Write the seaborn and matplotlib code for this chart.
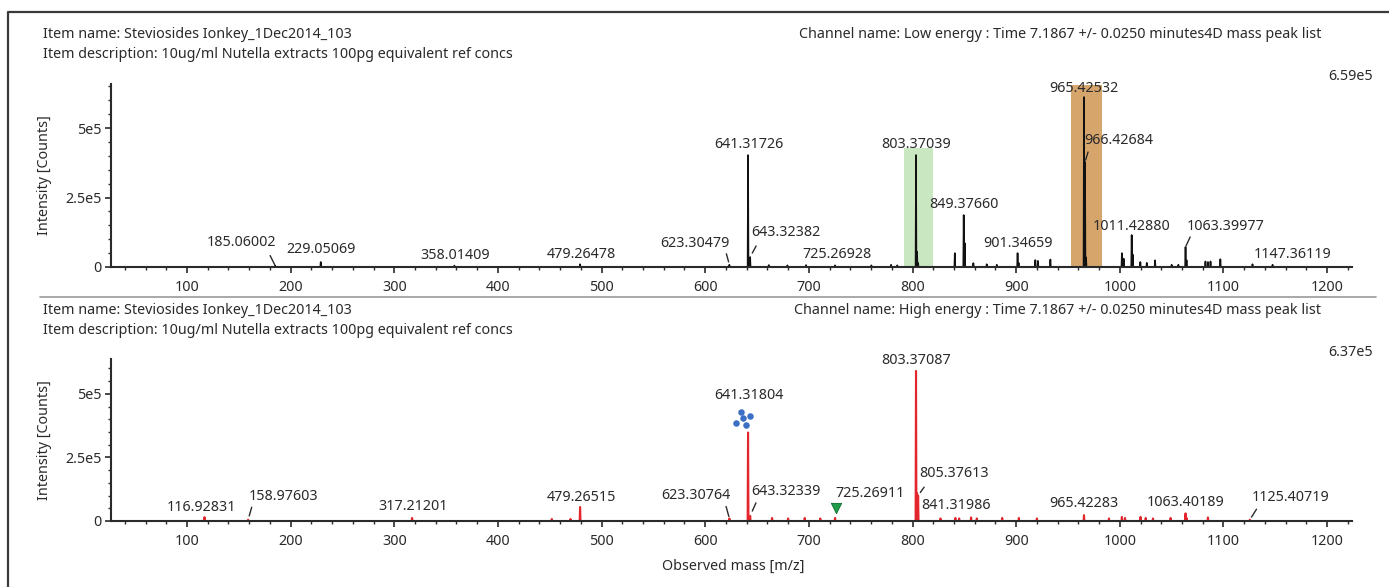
import seaborn as sns
import pandas as pd
import matplotlib.pyplot as plt
import matplotlib.transforms as mtransforms
from matplotlib.lines import Line2D
from matplotlib.ticker import FixedLocator, MultipleLocator
import numpy as np

sns.set_style('ticks')
plt.rcParams['font.family'] = ['Noto Sans', 'DejaVu Sans']
FS = 10.3
plt.rcParams['font.size'] = FS

W, H = 1389, 587
INK = '#2a2a2a'

# ---------------- data ----------------
header_name = 'Item name: Steviosides Ionkey_1Dec2014_103'
header_desc = 'Item description: 10ug/ml Nutella extracts 100pg equivalent ref concs'
low_channel = 'Channel name: Low energy : Time 7.1867 +/- 0.0250 minutes4D mass peak list'
high_channel = 'Channel name: High energy : Time 7.1867 +/- 0.0250 minutes4D mass peak list'

low_mz = [185.06002, 229.05069, 358.01409, 479.26478, 623.30479, 641.31726, 643.32382,
          661.3, 679.3, 697.3, 725.26928, 760.3, 779.3, 785.3, 803.37039, 804.374, 805.38,
          840.8, 849.37660, 850.38, 858.7, 871.6, 881.3, 901.34659, 902.35, 918.5, 921.0,
          933.0, 965.42532, 966.42684, 967.43, 1002.0, 1003.7, 1011.42880, 1012.43, 1019.8,
          1026.0, 1034.0, 1050.0, 1056.5, 1063.39977, 1064.40, 1082.6, 1085.0, 1087.5,
          1097.0, 1128.0, 1147.36119]
low_int = [5000, 18000, 5000, 10000, 8000, 403000, 36000,
           7000, 6000, 7000, 6000, 6000, 8000, 6000, 403000, 55000, 15000,
           50000, 187000, 86000, 14000, 10000, 8000, 50000, 15000, 25000, 22000,
           27000, 612000, 378000, 35000, 50000, 30000, 115000, 45000, 18000,
           15000, 24000, 8000, 8000, 72000, 25000, 20000, 18000, 20000,
           28000, 10000, 8000]
low_max = 6.59e5
low_bands = [(791.7, 819.7, 4.3e5), (953.0, 983.0, 6.55e5)]

high_mz = [116.92831, 158.97603, 317.21201, 452.0, 470.0, 479.26515, 623.30764, 641.31804,
           643.32339, 664.5, 680.0, 696.0, 711.0, 725.26911, 803.37087, 804.37, 805.37613,
           827.0, 841.31986, 845.0, 856.5, 862.0, 886.5, 902.6, 920.0, 965.42283, 989.5,
           1002.0, 1005.0, 1020.0, 1025.0, 1032.0, 1049.0, 1063.40189, 1064.4, 1085.0,
           1125.40719]
high_int = [15000, 5000, 12000, 8000, 8000, 55000, 10000, 348000,
            20000, 12000, 10000, 12000, 10000, 12000, 590000, 110000, 100000,
            10000, 12000, 10000, 14000, 10000, 12000, 12000, 10000, 23000, 10000,
            16000, 12000, 16000, 12000, 10000, 12000, 30000, 12000, 14000,
            5000]
high_max = 6.37e5

x_ticks = list(range(100, 1201, 100))
y_ticks = [0, 2.5e5, 5e5]
y_ticklabels = ['0', '2.5e5', '5e5']

# label layout: text offset from the peak tip (px) and optional leader (start, end) offsets (px)
low_labels = {
    '185.06002': (-34, 23, (-5, 10, 0, 1)),
    '229.05069': (0.5, 13, None),
    '358.01409': (0.6, 10, None),
    '479.26478': (1, 10, None),
    '623.30479': (-34, 21, (-3, 11, 0, 3)),
    '641.31726': (1, 11, None),
    '643.32382': (36, 25, (6, 11, 2, 4)),
    '725.26928': (2, 11, None),
    '803.37039': (0, 11, None),
    '849.37660': (0.5, 11, None),
    '901.34659': (0, 10, None),
    '965.42532': (0, 9, None),
    '966.42684': (34, 22, (3, 10, 0, 2)),
    '1011.42880': (0, 9, None),
    '1063.39977': (40, 21, (4.6, 10, 0, 1)),
    '1147.36119': (20, 10, None),
}
high_labels = {
    '116.92831': (-3.5, 10, None),
    '158.97603': (35, 23.5, (3.6, 12.5, 1.9, 3.5)),
    '317.21201': (1, 11, None),
    '479.26515': (1, 10, None),
    '623.30764': (-34, 23, (-3.3, 12, 0, 2)),
    '641.31804': (1, 37, None),
    '643.32339': (36, 24, (5.8, 13, 1.8, 5)),
    '725.26911': (35, 24, None),
    '803.37087': (0, 10, None),
    '805.37613': (36, 22, (6, 8.4, 3, 2.4)),
    '841.31986': (1, 12, None),
    '965.42283': (0, 12, None),
    '1063.40189': (0, 11, None),
    '1125.40719': (41, 22.5, (6.7, 10.5, 2.7, 1.5)),
}


def pt(v):
    return v * 72.0 / 100.0


def stick_frame(mz, inten):
    rows = []
    for k, (m, i) in enumerate(zip(mz, inten)):
        rows += [(k, m - 0.4, 0.0), (k, m, i), (k, m + 0.4, 0.0)]
    return pd.DataFrame(rows, columns=['peak', 'mz', 'intensity'])


def draw_panel(ax, mz, inten, color, lw, labels, ymax):
    df = stick_frame(mz, inten)
    sns.lineplot(data=df, x='mz', y='intensity', units='peak', estimator=None,
                 sort=False, color=color, lw=lw, ax=ax, zorder=2)
    ax.set_xlim(26.7, 1224)
    ax.set_ylim(0, ymax)
    ax.set_xlabel('')
    ax.set_ylabel('Intensity [Counts]', fontsize=FS, color=INK)
    ax.yaxis.set_label_coords(-0.0475, 0.5)
    sns.despine(ax=ax)
    for s in ['left', 'bottom']:
        ax.spines[s].set_linewidth(1.5)
        ax.spines[s].set_color(INK)
        ax.spines[s].set_zorder(3)
    ax.xaxis.set_major_locator(FixedLocator(x_ticks))
    ax.xaxis.set_minor_locator(MultipleLocator(20))
    ax.yaxis.set_major_locator(FixedLocator(y_ticks))
    ax.set_yticklabels(y_ticklabels)
    ax.yaxis.set_minor_locator(MultipleLocator(5e4))
    ax.tick_params(axis='x', which='major', length=4, width=1.2, pad=5.5, colors=INK, labelsize=FS)
    ax.tick_params(axis='x', which='minor', length=2.2, width=1.0, colors=INK)
    ax.tick_params(axis='y', which='major', length=4.5, width=1.2, pad=2, colors=INK, labelsize=FS)
    ax.tick_params(axis='y', which='minor', length=2.2, width=1.0, colors=INK)

    lookup = dict(zip(mz, inten))
    for lab, (dx, dy, lead) in labels.items():
        m = float(lab)
        i = lookup[min(lookup, key=lambda v: abs(v - m))]
        ax.annotate(lab, xy=(m, i), xytext=(pt(dx), pt(dy)), textcoords='offset points',
                    ha='center', va='center', fontsize=FS, color=INK, zorder=4)
        if lead:
            x0, y0, x1, y1 = lead
            ax.annotate('', xy=(m, i), xytext=(pt(x0), pt(y0)), textcoords='offset points',
                        arrowprops=dict(arrowstyle='-', lw=1.0, color=INK, shrinkA=0,
                                        shrinkB=pt(np.hypot(x1, y1))), zorder=4)


fig = plt.figure(figsize=(W / 100, H / 100), dpi=100)
ax_top = fig.add_axes([111 / W, 1 - 267 / H, (1352 - 111) / W, (267 - 84) / H])
ax_bot = fig.add_axes([111 / W, 1 - 521 / H, (1352 - 111) / W, (521 - 359) / H])

# highlight windows on the low energy channel
for (x0, x1, h), c in zip(low_bands, ['#c9e7c1', '#d6a56c']):
    ax_top.fill_between([x0, x1], 0, h, color=c, lw=0, zorder=1)

draw_panel(ax_top, low_mz, low_int, '#111111', 1.2, low_labels, low_max)
draw_panel(ax_bot, high_mz, high_int, '#e3262e', 1.5, high_labels, high_max)

# glycan symbol above 641 and marker above 725 in the high energy channel
i641 = high_int[high_mz.index(641.31804)]
for dx, dy in [(-6.6, 20.7), (1.7, 16.7), (-5, 14), (-12.3, 9.3), (-1.6, 7.3)]:
    tr = mtransforms.offset_copy(ax_bot.transData, fig=fig, x=dx, y=dy, units='dots')
    ax_bot.scatter([641.31804], [i641], s=22, color='#3b6fc4', lw=0, transform=tr, zorder=5)
i725 = high_int[high_mz.index(725.26911)]
tr = mtransforms.offset_copy(ax_bot.transData, fig=fig, x=0.5, y=9.5, units='dots')
ax_bot.scatter([725.26911], [i725], s=55, marker='v', color='#1e9e4b', edgecolor='#0b6b2e',
               lw=0.6, transform=tr, zorder=5)

# header texts
for y_name, y_desc, chan, mx, y_max in [(34, 55, low_channel, low_max, 76),
                                        (310, 331, high_channel, high_max, 352)]:
    fig.text(43 / W, 1 - y_name / H, header_name, ha='left', va='center', color=INK)
    fig.text(43 / W, 1 - y_desc / H, header_desc, ha='left', va='center', color=INK)
    fig.text(1321 / W, 1 - y_name / H, chan, ha='right', va='center', color=INK)
    mant, ex = f'{mx:.2e}'.split('e')
    fig.text(1373 / W, 1 - y_max / H, f'{mant}e{int(ex)}', ha='right', va='center', color=INK)

fig.text(733 / W, 1 - 566 / H, 'Observed mass [m/z]', ha='center', va='center', color=INK)

# frame and separator
fig.add_artist(Line2D([8 / W, 8 / W, 1], [0, 1 - 12 / H, 1 - 12 / H], color='#3a3a3a', lw=1.6))
fig.add_artist(Line2D([40 / W, 1376 / W], [1 - 297 / H, 1 - 297 / H], color='#9a9a9a', lw=1.2))

fig.savefig('out.png', dpi=100)
